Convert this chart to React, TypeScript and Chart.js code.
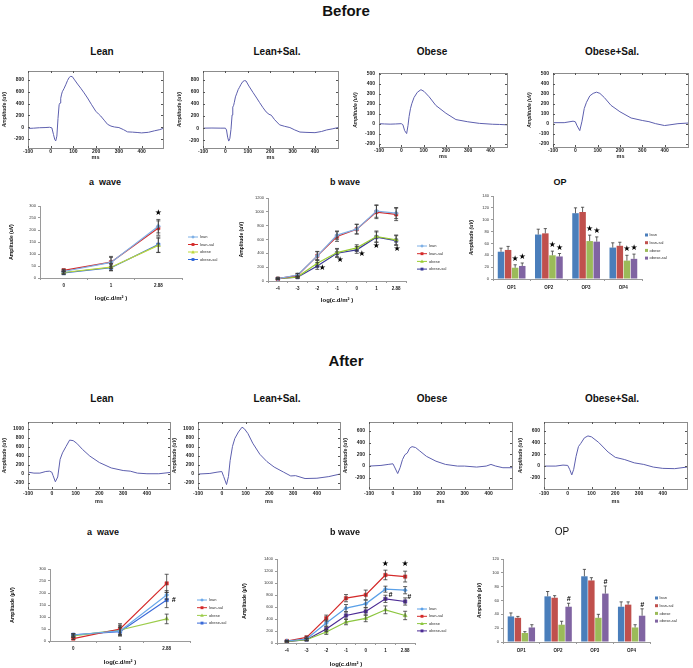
import React, { useEffect, useRef } from "react";
import { Chart, registerables } from "chart.js";
Chart.register(...registerables);

const FONT = "'Liberation Sans', Arial, sans-serif";
Chart.defaults.font.family = FONT;

// ---------- ERG waveforms (ms / uV) ----------
const beforeLeanMs = [-100,-75,-50,-25,-5,5,12,18,22,27,32,37,41,44,48,51,58,66,74,81,88,95,105,118,132,147,162,180,198,210,220,235,250,265,280,300,320,338,360,380,400,430,456,480,494];
const beforeLeanUv = [-20,-15,-8,-5,0,-10,-120,-210,-230,-150,150,380,410,490,560,600,650,717,790,840,860,855,800,730,660,580,494,380,272,225,190,120,50,20,5,-5,-40,-78,-82,-88,-95,-85,-60,-40,-20];
const beforeLeanSalMs = [-100,-60,-20,0,5,10,15,20,25,30,33,37,40,45,50,57,63,70,78,85,92,105,123,140,152,168,182,195,205,220,242,265,288,310,333,360,400,430,452,480,503];
const beforeLeanSalUv = [0,2,0,0,-30,-150,-215,-170,-20,220,350,380,430,520,570,640,680,730,775,790,785,700,595,500,430,340,270,230,215,140,55,30,10,-30,-65,-70,-75,-55,-30,-10,10];
const beforeObeseMs = [-100,-75,-50,-25,0,7,15,24,30,35,41,47,57,72,88,102,125,155,200,245,298,350,410,440,474];
const beforeObeseUv = [0,-3,-5,-3,0,-10,-70,-100,-20,73,150,200,263,316,342,325,270,183,105,41,19,3,-6,-8,-12];
const beforeObeseSalMs = [-100,-50,-10,0,8,20,30,40,50,65,80,95,110,130,160,200,250,300,330,360,400,420,460,505];
const beforeObeseSalUv = [10,10,25,19,-22,-70,25,152,215,280,305,317,305,263,184,120,57,32,20,0,-19,-13,0,6];
const afterLeanMs = [-100,-75,-50,-25,-10,0,5,15,25,35,45,60,75,90,105,130,160,200,250,300,330,360,400,450,497];
const afterLeanUv = [42,21,21,57,64,42,-28,-170,-64,326,468,610,750,738,680,540,397,255,135,78,64,21,7,7,35];
const afterLeanSalMs = [-100,-50,-20,0,8,20,28,35,45,55,70,85,95,110,130,160,190,220,260,290,310,350,400,450,497];
const afterLeanSalUv = [0,14,42,56,-56,-232,-56,296,612,788,930,1035,1000,894,683,437,275,155,42,-42,-35,-99,-92,-56,0];
const afterObeseMs = [-100,-50,-20,0,5,20,30,40,50,60,70,80,95,110,140,180,220,270,300,350,390,410,430,460,498];
const afterObeseUv = [0,11,28,39,0,-127,-28,110,193,221,304,331,315,265,166,83,28,0,0,-17,0,28,0,-28,-28];
const afterObeseSalMs = [-100,-50,-20,0,8,17,25,35,45,55,70,85,100,130,170,200,240,280,320,360,400,450,502];
const afterObeseSalUv = [0,0,17,11,-55,-150,-55,166,331,387,480,513,497,403,238,149,110,55,28,-17,-39,-44,-17];
const waveMsTicks = [-100, 0, 100, 200, 300, 400];

// ---------- categories / labels ----------
const aWaveCats = ["0", "1", "2.88"];
const bWaveCats = ["-4", "-3", "-2", "-1", "0", "1", "2.88"];
const opCats = ["OP1", "OP2", "OP3", "OP4"];
const seriesLabels = ["lean", "lean-sal", "obese", "obese-sal"];
const pointStyles = ["rectRot", "rect", "triangle", "rect"];

// ---------- Before: a wave ----------
const bA_lean = [27, 65, 216];
const bA_leanSal = [32, 66, 208];
const bA_obese = [23, 45, 136];
const bA_obeseSal = [21, 43, 139];
const bA_leanErr = [6, 25, 28];
const bA_leanSalErr = [5, 20, 30];
const bA_obeseErr = [6, 15, 30];
const bA_obeseSalErr = [7, 12, 32];
// ---------- Before: b wave ----------
const bB_lean = [34, 87, 363, 663, 750, 1011, 982];
const bB_leanSal = [34, 82, 363, 643, 750, 997, 963];
const bB_obese = [35, 60, 256, 411, 479, 643, 595];
const bB_obeseSal = [33, 55, 218, 401, 450, 634, 585];
const bB_leanErr = [10, 25, 65, 60, 70, 90, 80];
const bB_leanSalErr = [10, 25, 60, 70, 70, 95, 90];
const bB_obeseErr = [8, 15, 50, 60, 45, 80, 70];
const bB_obeseSalErr = [8, 15, 50, 60, 50, 75, 70];
// ---------- Before: OP ----------
const bO_lean = [46, 75, 111, 53];
const bO_leanSal = [49, 77, 113, 56];
const bO_obese = [19, 40, 64, 31];
const bO_obeseSal = [22, 38, 63, 34];
const bO_leanErr = [6, 9, 9, 8];
const bO_leanSalErr = [6, 8, 8, 6];
const bO_obeseErr = [5, 7, 10, 9];
const bO_obeseSalErr = [5, 5, 8, 8];
// ---------- After: a wave ----------
const aA_lean = [25, 42, 192];
const aA_leanSal = [10, 50, 240];
const aA_obese = [21, 46, 92];
const aA_obeseSal = [26, 39, 171];
const aA_leanErr = [5, 20, 18];
const aA_leanSalErr = [4, 22, 38];
const aA_obeseErr = [5, 20, 20];
const aA_obeseSalErr = [5, 18, 32];
// ---------- After: b wave ----------
const aB_lean = [33, 66, 332, 581, 653, 897, 880];
const aB_leanSal = [33, 94, 415, 747, 802, 1134, 1107];
const aB_obese = [28, 55, 183, 349, 410, 553, 459];
const aB_obeseSal = [22, 55, 232, 459, 526, 736, 692];
const aB_leanErr = [10, 20, 50, 60, 60, 50, 60];
const aB_leanSalErr = [10, 20, 50, 60, 80, 80, 90];
const aB_obeseErr = [8, 15, 40, 45, 55, 65, 70];
const aB_obeseSalErr = [8, 15, 40, 60, 60, 60, 60];
// ---------- After: OP ----------
const aO_lean = [37, 66, 95, 51];
const aO_leanSal = [35, 64, 89, 54];
const aO_obese = [13, 25, 35, 21];
const aO_obeseSal = [21, 51, 70, 38];
const aO_leanErr = [5, 7, 10, 7];
const aO_leanSalErr = [2, 3, 4, 4];
const aO_obeseErr = [2, 5, 5, 4];
const aO_obeseSalErr = [4, 5, 11, 10];

// significance marks (category index, value, symbol)
const bA_marks = [{ i: 2, v: 270, t: "★", dx: 0 }];
const bB_marks = [
  { i: 2, v: 188, t: "★", dx: 5 }, { i: 3, v: 304, t: "★", dx: 3 }, { i: 4, v: 390, t: "★", dx: 5 },
  { i: 5, v: 506, t: "★", dx: 0 }, { i: 6, v: 463, t: "★", dx: 1 },
];
const aA_marks = [{ i: 2, v: 171, t: "#", dx: 7 }];
const aB_marks = [
  { i: 5, v: 1317, t: "★", dx: 0 }, { i: 6, v: 1317, t: "★", dx: 0 },
  { i: 5, v: 800, t: "#", dx: 5 }, { i: 6, v: 767, t: "#", dx: 4 },
];
const bO_barMarks = [
  { i: 0, ds: 2, t: "★" }, { i: 0, ds: 3, t: "★" }, { i: 1, ds: 2, t: "★" }, { i: 1, ds: 3, t: "★" },
  { i: 2, ds: 2, t: "★" }, { i: 2, ds: 3, t: "★" }, { i: 3, ds: 2, t: "★" }, { i: 3, ds: 3, t: "★" },
];
const aO_barMarks = [{ i: 1, ds: 3, t: "#" }, { i: 2, ds: 3, t: "#" }, { i: 3, ds: 3, t: "#" }];

const barColors = ["#4a7ebb", "#c0504d", "#9bbb59", "#8064a2"];

// ---------- plugins ----------
function makeBoxPlugin(labelDy: number) {
  return {
    id: "boxTicks",
    afterDraw(chart: any) {
      const { ctx, chartArea: a, scales } = chart;
      ctx.save();
      ctx.strokeStyle = "#8c8c8c";
      ctx.lineWidth = 1;
      ctx.strokeRect(Math.round(a.left) + 0.5, Math.round(a.top) + 0.5, Math.round(a.right - a.left), Math.round(a.bottom - a.top));
      ctx.strokeStyle = "#555";
      ctx.beginPath();
      waveMsTicks.forEach((v) => {
        const px = Math.round(scales.x.getPixelForValue(v)) + 0.5;
        ctx.moveTo(px, a.bottom); ctx.lineTo(px, a.bottom - 2);
        ctx.moveTo(px, a.top); ctx.lineTo(px, a.top + 2);
      });
      scales.y.ticks.forEach((t: any) => {
        const py = Math.round(scales.y.getPixelForValue(t.value)) + 0.5;
        ctx.moveTo(a.left, py); ctx.lineTo(a.left + 2, py);
        ctx.moveTo(a.right, py); ctx.lineTo(a.right - 2, py);
      });
      ctx.stroke();
      ctx.fillStyle = "#222";
      ctx.font = `bold 5px ${FONT}`;
      ctx.textAlign = "center";
      ctx.textBaseline = "middle";
      waveMsTicks.forEach((v) => {
        ctx.fillText(String(v), scales.x.getPixelForValue(v), a.bottom + labelDy);
      });
      ctx.restore();
    },
  };
}

function errorBars(upperOnly: boolean) {
  return {
    id: "errBars",
    afterDatasetsDraw(chart: any) {
      const { ctx } = chart;
      const y = chart.scales.y;
      chart.data.datasets.forEach((ds: any, di: number) => {
        if (!ds.errors) return;
        const meta = chart.getDatasetMeta(di);
        ctx.save();
        ctx.strokeStyle = "#3a3a3a";
        ctx.lineWidth = 0.8;
        ctx.beginPath();
        meta.data.forEach((el: any, i: number) => {
          const v = ds.data[i];
          const e = ds.errors[i];
          const x = el.x;
          const cap = upperOnly ? 1.6 : 2;
          const yt = y.getPixelForValue(v + e);
          const yb = upperOnly ? y.getPixelForValue(v) : y.getPixelForValue(v - e);
          ctx.moveTo(x, yt); ctx.lineTo(x, yb);
          ctx.moveTo(x - cap, yt); ctx.lineTo(x + cap, yt);
          if (!upperOnly) { ctx.moveTo(x - cap, yb); ctx.lineTo(x + cap, yb); }
        });
        ctx.stroke();
        ctx.restore();
      });
    },
  };
}

function drawMarker(ctx: any, style: string, x: number, y: number, r: number, color: string) {
  ctx.fillStyle = color;
  ctx.beginPath();
  if (style === "rectRot") {
    ctx.moveTo(x, y - r); ctx.lineTo(x + r, y); ctx.lineTo(x, y + r); ctx.lineTo(x - r, y);
  } else if (style === "triangle") {
    ctx.moveTo(x, y - r); ctx.lineTo(x + r, y + r * 0.8); ctx.lineTo(x - r, y + r * 0.8);
  } else {
    ctx.rect(x - r * 0.8, y - r * 0.8, r * 1.6, r * 1.6);
  }
  ctx.closePath();
  ctx.fill();
}

function legendPlugin(kind: string, leg: { dx: number; y0: number; gap: number }) {
  return {
    id: "miniLegend",
    afterDraw(chart: any) {
      const { ctx, chartArea: a } = chart;
      ctx.save();
      ctx.font = `4px ${FONT}`;
      ctx.textBaseline = "middle";
      chart.data.datasets.forEach((ds: any, k: number) => {
        const x = a.right + leg.dx;
        const y = a.top + leg.y0 + k * leg.gap;
        if (kind === "line") {
          ctx.strokeStyle = ds.borderColor;
          ctx.lineWidth = 1;
          ctx.beginPath(); ctx.moveTo(x, y); ctx.lineTo(x + 10, y); ctx.stroke();
          drawMarker(ctx, ds.pointStyle, x + 5, y, 1.8, ds.borderColor);
          ctx.fillStyle = "#333";
          ctx.fillText(ds.label, x + 12, y);
        } else {
          ctx.fillStyle = ds.backgroundColor;
          ctx.fillRect(x, y - 1.5, 3, 3);
          ctx.fillStyle = "#333";
          ctx.fillText(ds.label, x + 4.5, y);
        }
      });
      ctx.restore();
    },
  };
}

function marksPlugin(marks: any[]) {
  return {
    id: "marks",
    afterDatasetsDraw(chart: any) {
      const { ctx, scales: { x, y } } = chart;
      ctx.save();
      ctx.fillStyle = "#000";
      ctx.textAlign = "center";
      ctx.textBaseline = "middle";
      marks.forEach((m) => {
        ctx.font = m.t === "#" ? `italic bold 7px ${FONT}` : `8px 'DejaVu Sans'`;
        ctx.fillText(m.t, x.getPixelForValue(m.i) + (m.dx || 0), y.getPixelForValue(m.v));
      });
      ctx.restore();
    },
  };
}

function barMarksPlugin(marks: any[]) {
  return {
    id: "barMarks",
    afterDatasetsDraw(chart: any) {
      const { ctx } = chart;
      const y = chart.scales.y;
      ctx.save();
      ctx.fillStyle = "#000";
      ctx.textAlign = "center";
      ctx.textBaseline = "middle";
      marks.forEach((m) => {
        const ds: any = chart.data.datasets[m.ds];
        const el: any = chart.getDatasetMeta(m.ds).data[m.i];
        const top = y.getPixelForValue(ds.data[m.i] + ds.errors[m.i]);
        ctx.font = m.t === "#" ? `italic bold 7px ${FONT}` : `8px 'DejaVu Sans'`;
        ctx.fillText(m.t, el.x, top - (m.t === "#" ? 4 : 6));
      });
      ctx.restore();
    },
  };
}

// ---------- config builders ----------
type Geom = { left: number; top: number; width: number; height: number; yw: number; xh: number; pt: number; pr: number; ytp: number; xtp: number; ldy?: number };

function multipleFilter(step: number) {
  return (s: any) => {
    s.ticks = s.ticks.filter((t: any) => Math.abs(t.value / step - Math.round(t.value / step)) < 1e-6);
  };
}

const plainNum = (v: any) => String(v);

function waveCfg(ms: number[], uv: number[], yMin: number, yMax: number, yStep: number, xMax: number, g: Geom) {
  const pts = ms.map((x, i) => ({ x, y: uv[i] }));
  return {
    type: "line",
    data: { datasets: [{ data: pts, borderColor: "#5d5fae", borderWidth: 1, pointRadius: 0, tension: 0 }] },
    options: {
      responsive: false,
      animation: false,
      layout: { padding: { top: g.pt, right: g.pr, left: 0, bottom: 0 } },
      plugins: { legend: { display: false }, tooltip: { enabled: false } },
      scales: {
        x: {
          type: "linear", min: -100, max: xMax,
          ticks: { display: false, stepSize: 100, includeBounds: false },
          grid: { display: false, drawTicks: false },
          border: { display: false },
          title: { display: true, text: "ms", font: { size: 5.5, weight: "bold" }, color: "#222", padding: { top: 0, bottom: g.xtp } },
          afterFit: (s: any) => { s.height = g.xh; },
        },
        y: {
          type: "linear", min: yMin, max: yMax,
          ticks: { stepSize: yStep, includeBounds: false, font: { size: 5, weight: "bold" }, color: "#222", padding: 4, callback: plainNum },
          grid: { display: false, drawTicks: false },
          border: { display: false },
          title: { display: true, text: "Amplitude (uV)", font: { size: 5, weight: "bold", style: "italic" }, color: "#222", padding: { top: g.ytp, bottom: 0 } },
          afterBuildTicks: multipleFilter(yStep),
          afterFit: (s: any) => { s.width = g.yw; },
        },
      },
    },
    plugins: [makeBoxPlugin(g.ldy || 4)],
  };
}

function lineCfg(cats: string[], values: number[][], errs: number[][], colors: string[], yMax: number, yStep: number, yTitle: string, g: Geom, marks: any[], leg: any) {
  const datasets = values.map((d, k) => ({
    label: seriesLabels[k], data: d, errors: errs[k],
    borderColor: colors[k], backgroundColor: colors[k],
    borderWidth: 1.2, pointStyle: pointStyles[k], pointRadius: k === 0 ? 2.2 : 2.4, pointBorderWidth: 0.5, tension: 0,
  }));
  return {
    type: "line",
    data: { labels: cats, datasets },
    options: {
      responsive: false,
      animation: false,
      layout: { padding: { top: g.pt, right: g.pr, left: 0, bottom: 0 } },
      plugins: { legend: { display: false }, tooltip: { enabled: false } },
      scales: {
        x: {
          type: "category", offset: true,
          grid: { offset: true, drawOnChartArea: false, tickLength: 2, color: "#9a9a9a" },
          border: { color: "#9a9a9a" },
          ticks: { font: { size: 4.5, weight: "bold" }, color: "#222", padding: 3, maxRotation: 0, autoSkip: false },
          title: { display: true, text: "log(c.d/m² )", font: { size: 6, weight: "bold" }, color: "#111", padding: { top: 0, bottom: g.xtp } },
          afterFit: (s: any) => { s.height = g.xh; },
        },
        y: {
          type: "linear", min: 0, max: yMax,
          ticks: { stepSize: yStep, font: { size: 4 }, color: "#333", padding: 2, callback: plainNum },
          grid: { drawOnChartArea: false, tickLength: 2, color: "#9a9a9a" },
          border: { color: "#9a9a9a" },
          title: { display: true, text: yTitle, font: { size: 5, weight: "bold" }, color: "#111", padding: { top: g.ytp, bottom: 0 } },
          afterFit: (s: any) => { s.width = g.yw; },
        },
      },
    },
    plugins: [errorBars(false), marksPlugin(marks), legendPlugin("line", leg)],
  };
}

function barCfg(values: number[][], errs: number[][], yMax: number, yStep: number, yTitle: string, g: Geom, marks: any[], leg: any) {
  const datasets = values.map((d, k) => ({
    label: seriesLabels[k], data: d, errors: errs[k], backgroundColor: barColors[k], borderWidth: 0,
    categoryPercentage: 0.76, barPercentage: 0.92,
  }));
  return {
    type: "bar",
    data: { labels: opCats, datasets },
    options: {
      responsive: false,
      animation: false,
      layout: { padding: { top: g.pt, right: g.pr, left: 0, bottom: 0 } },
      plugins: { legend: { display: false }, tooltip: { enabled: false } },
      scales: {
        x: {
          grid: { drawOnChartArea: false, tickLength: 2, color: "#9a9a9a" },
          border: { color: "#9a9a9a" },
          ticks: { font: { size: 4.5, weight: "bold" }, color: "#222", padding: 4, maxRotation: 0, autoSkip: false },
          afterFit: (s: any) => { s.height = g.xh; },
        },
        y: {
          min: 0, max: yMax,
          ticks: { stepSize: yStep, font: { size: 4 }, color: "#333", padding: 2, callback: plainNum },
          grid: { drawOnChartArea: false, tickLength: 2, color: "#9a9a9a" },
          border: { color: "#9a9a9a" },
          title: { display: true, text: yTitle, font: { size: 5, weight: "bold", style: "italic" }, color: "#111", padding: { top: g.ytp, bottom: 0 } },
          afterFit: (s: any) => { s.width = g.yw; },
        },
      },
    },
    plugins: [errorBars(true), barMarksPlugin(marks), legendPlugin("bar", leg)],
  };
}

function waveGeom(l: number, t: number, r: number, b: number, xtp: number, ldy: number): Geom {
  return { left: l - 28, top: t - 4, width: r - l + 33, height: b - t + 20, yw: 28, xh: 16, pt: 4, pr: 5, ytp: 2, xtp, ldy };
}

// ---------- components ----------
function ChartBox({ g, make }: { g: Geom; make: () => any }) {
  const ref = useRef<HTMLCanvasElement>(null);
  useEffect(() => {
    const c = new Chart(ref.current as HTMLCanvasElement, make());
    return () => c.destroy();
  }, []);
  return <canvas ref={ref} width={g.width} height={g.height} style={{ position: "absolute", left: g.left, top: g.top, width: g.width, height: g.height }} />;
}

function Label({ x, y, text, size, weight = "bold" }: { x: number; y: number; text: string; size: number; weight?: string }) {
  return (
    <div style={{ position: "absolute", left: x, top: y, transform: "translate(-50%,-50%)", fontFamily: FONT, fontSize: size, fontWeight: weight as any, whiteSpace: "pre", color: "#111", lineHeight: 1 }}>
      {text}
    </div>
  );
}

const gBA: Geom = { left: 0, top: 190, width: 230, height: 115, yw: 40, xh: 27, pt: 16, pr: 48, ytp: 9, xtp: 3.5 };
const gBB: Geom = { left: 228, top: 185, width: 230, height: 120, yw: 40, xh: 24, pt: 13, pr: 52, ytp: 11, xtp: 1.5 };
const gBO: Geom = { left: 458, top: 183, width: 235, height: 122, yw: 35, xh: 26, pt: 13, pr: 51, ytp: 11, xtp: 0 };
const gAA: Geom = { left: 5, top: 553, width: 230, height: 115, yw: 45, xh: 27, pt: 16, pr: 45, ytp: 5, xtp: 2.5 };
const gAB: Geom = { left: 235, top: 545, width: 225, height: 123, yw: 42, xh: 25, pt: 14, pr: 45, ytp: 7, xtp: 0.5 };
const gAO: Geom = { left: 463, top: 545, width: 230, height: 123, yw: 40, xh: 26, pt: 14, pr: 43, ytp: 14, xtp: 0 };

const gW1 = waveGeom(28, 68, 163, 148, 3, 4);
const gW2 = waveGeom(203, 68, 338, 148, 3, 4);
const gW3 = waveGeom(379, 70, 507, 147, 3, 4);
const gW4 = waveGeom(553, 70, 688, 147, 3, 4);
const gW5 = waveGeom(28, 419, 170, 489, 0, 5);
const gW6 = waveGeom(198, 419, 340, 489, 0, 5);
const gW7 = waveGeom(369, 419, 512, 489, 0, 5);
const gW8 = waveGeom(544, 419, 687, 489, 0, 5);

export default function App() {
  const cA1 = ["#7fb0e6", "#d42a2a", "#bcd83a", "#2f66d8"];
  const cB1 = ["#7fb0e6", "#d42a2a", "#9acd32", "#3a3a98"];
  const cA2 = ["#6aa8ea", "#d42a2a", "#9ccc4a", "#3a6ad8"];
  const cB2 = ["#5aa0e8", "#d42a2a", "#8cc63f", "#4c2b94"];
  return (
    <div style={{ position: "absolute", left: 0, top: 0, width: 693, height: 668, background: "#fff", overflow: "hidden" }}>
      <Label x={346} y={10} text="Before" size={15} />
      <Label x={102} y={52} text="Lean" size={10} />
      <Label x={277} y={52} text="Lean+Sal." size={10} />
      <Label x={432} y={52} text="Obese" size={10} />
      <Label x={612} y={52} text="Obese+Sal." size={10} />
      <ChartBox g={gW1} make={() => waveCfg(beforeLeanMs, beforeLeanUv, -350, 950, 200, 494, gW1)} />
      <ChartBox g={gW2} make={() => waveCfg(beforeLeanSalMs, beforeLeanSalUv, -330, 950, 200, 503, gW2)} />
      <ChartBox g={gW3} make={() => waveCfg(beforeObeseMs, beforeObeseUv, -235, 510, 100, 474, gW3)} />
      <ChartBox g={gW4} make={() => waveCfg(beforeObeseSalMs, beforeObeseSalUv, -235, 510, 100, 505, gW4)} />

      <Label x={105} y={182} text="a  wave" size={9} />
      <Label x={345} y={182} text="b wave" size={9} />
      <Label x={560} y={182} text="OP" size={9} />
      <ChartBox g={gBA} make={() => lineCfg(aWaveCats, [bA_lean, bA_leanSal, bA_obese, bA_obeseSal], [bA_leanErr, bA_leanSalErr, bA_obeseErr, bA_obeseSalErr], cA1, 300, 50, "Amplitude (uV)", gBA, bA_marks, { dx: 6, y0: 31, gap: 7.5 })} />
      <ChartBox g={gBB} make={() => lineCfg(bWaveCats, [bB_lean, bB_leanSal, bB_obese, bB_obeseSal], [bB_leanErr, bB_leanSalErr, bB_obeseErr, bB_obeseSalErr], cB1, 1200, 200, "Amplitude (uV)", gBB, bB_marks, { dx: 11, y0: 48, gap: 7.7 })} />
      <ChartBox g={gBO} make={() => barCfg([bO_lean, bO_leanSal, bO_obese, bO_obeseSal], [bO_leanErr, bO_leanSalErr, bO_obeseErr, bO_obeseSalErr], 140, 20, "Amplitude (uV)", gBO, bO_barMarks, { dx: 3, y0: 39, gap: 7.7 })} />

      <Label x={346} y={360} text="After" size={15} />
      <Label x={102} y={399} text="Lean" size={10} />
      <Label x={277} y={399} text="Lean+Sal." size={10} />
      <Label x={432} y={399} text="Obese" size={10} />
      <Label x={612} y={399} text="Obese+Sal." size={10} />
      <ChartBox g={gW5} make={() => waveCfg(afterLeanMs, afterLeanUv, -330, 1150, 200, 497, gW5)} />
      <ChartBox g={gW6} make={() => waveCfg(afterLeanSalMs, afterLeanSalUv, -330, 1150, 200, 497, gW6)} />
      <ChartBox g={gW7} make={() => waveCfg(afterObeseMs, afterObeseUv, -390, 750, 200, 498, gW7)} />
      <ChartBox g={gW8} make={() => waveCfg(afterObeseSalMs, afterObeseSalUv, -390, 750, 200, 502, gW8)} />

      <Label x={103} y={532} text="a  wave" size={9} />
      <Label x={345} y={532} text="b wave" size={9} />
      <Label x={562} y={532} text="OP" size={10} weight="normal" />
      <ChartBox g={gAA} make={() => lineCfg(aWaveCats, [aA_lean, aA_leanSal, aA_obese, aA_obeseSal], [aA_leanErr, aA_leanSalErr, aA_obeseErr, aA_obeseSalErr], cA2, 300, 50, "Amplitude (µV)", gAA, aA_marks, { dx: 7, y0: 31, gap: 7.7 })} />
      <ChartBox g={gAB} make={() => lineCfg(bWaveCats, [aB_lean, aB_leanSal, aB_obese, aB_obeseSal], [aB_leanErr, aB_leanSalErr, aB_obeseErr, aB_obeseSalErr], cB2, 1400, 200, "Amplitude (µV)", gAB, aB_marks, { dx: 2, y0: 50, gap: 7.3 })} />
      <ChartBox g={gAO} make={() => barCfg([aO_lean, aO_leanSal, aO_obese, aO_obeseSal], [aO_leanErr, aO_leanSalErr, aO_obeseErr, aO_obeseSalErr], 120, 20, "Amplitude (µV)", gAO, aO_barMarks, { dx: 5, y0: 39, gap: 7.7 })} />
    </div>
  );
}
